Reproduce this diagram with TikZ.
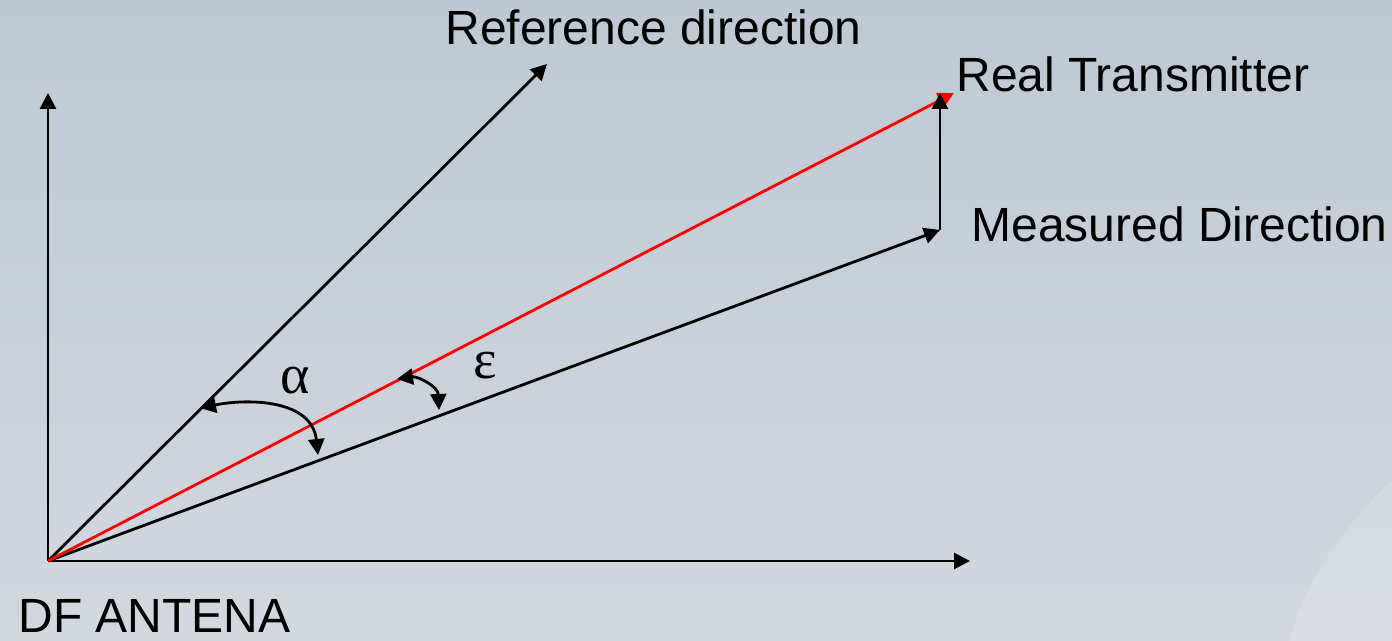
\documentclass[tikz,border=0pt]{standalone}
\usepackage{fontspec}
\setmainfont{Liberation Sans}
\newfontfamily\greekfont{Liberation Serif}
\usetikzlibrary{arrows.meta}
\definecolor{bgtop}{RGB}{190,200,211}
\definecolor{bgbot}{RGB}{211,216,223}
\definecolor{dfred}{RGB}{255,0,0}
\tikzset{
  vec/.style={line width=1.4pt, -{Triangle[length=8pt,width=8pt]}},
  angarc/.style={line width=1.4pt, {Triangle[length=8pt,width=8pt]}-{Triangle[length=8pt,width=8pt]}},
  lbl/.style={font=\fontsize{24pt}{28pt}\selectfont, inner sep=0pt},
  glbl/.style={font=\greekfont\fontsize{28pt}{32pt}\selectfont, inner sep=0pt}
}
\begin{document}
\begin{tikzpicture}[x=0.5pt,y=-0.5pt]
\useasboundingbox (0,0) rectangle (1392,641);
\shade[top color=bgtop,bottom color=bgbot] (0,0) rectangle (1392,641);
% faint dish in the corner
\fill[white,opacity=0.14] (1392,480) .. controls (1340,530) and (1300,590) .. (1290,641) -- (1392,641) -- cycle;
% points
\coordinate (O) at (48,561);
\coordinate (Ytip) at (48,93);
\coordinate (Xtip) at (970,561);
\coordinate (Ref) at (547,64);
\coordinate (Real) at (954,93);
\coordinate (Meas) at (940,230);
\coordinate (Up) at (940,93);
\coordinate (a1) at (200,408);
\coordinate (a2) at (318,455);
\coordinate (e1) at (397,379);
\coordinate (e2) at (439,410);
% axes and directions
\draw[vec] (O) -- (Ytip);
\draw[vec] (O) -- (Xtip);
\draw[vec] (O) -- (Ref);
\draw[vec] (O) -- (Meas);
\draw[vec,dfred] (O) -- (Real);
\draw[vec] (Meas) -- (Up);
% angle arcs
\draw[angarc] (a1) .. controls (250,398) and (312,400) .. (a2);
\draw[angarc] (e1) .. controls (417,376) and (438,386) .. (e2);
% labels
\node[lbl,anchor=base west] (tref) at (445,45) {Reference direction};
\node[lbl,anchor=base west] (treal) at (956,92) {Real Transmitter};
\node[lbl,anchor=base west] (tmeas) at (971,242) {Measured Direction};
\node[lbl,anchor=base west] (tdf) at (18,632) {DF ANTENA};
\node[glbl] (talpha) at (295,381) {α};
\node[glbl] (teps) at (485,366) {ε};
\end{tikzpicture}
\end{document}
